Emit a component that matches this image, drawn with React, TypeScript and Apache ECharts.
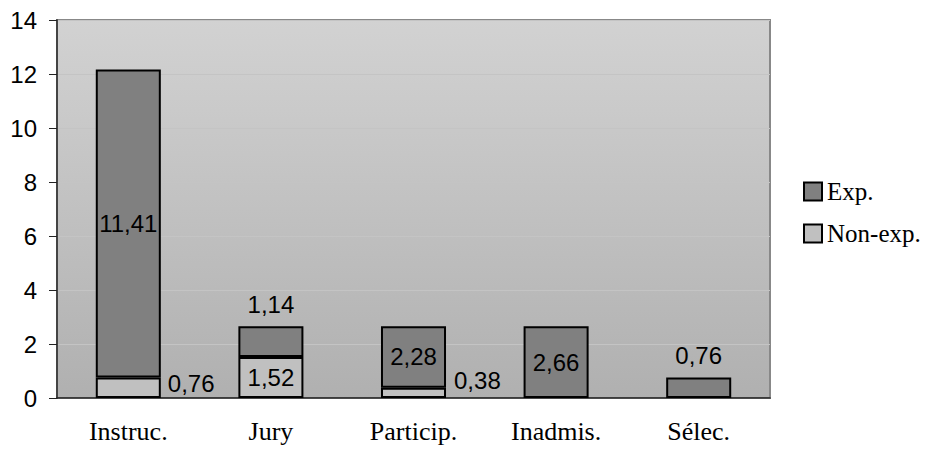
import React, { useEffect, useRef } from "react";
import * as echarts from "echarts";

const categories = ["Instruc.", "Jury", "Particip.", "Inadmis.", "Sélec."];
const expValues = [11.41, 1.14, 2.28, 2.66, 0.76];
const nonExpValues: (number | null)[] = [0.76, 1.52, 0.38, null, null];
const yTicks = { min: 0, max: 14, interval: 2 };

const fmt = (v: number) => v.toFixed(2).replace(".", ",");

export default function App() {
  const ref = useRef<HTMLDivElement>(null);
  useEffect(() => {
    if (!ref.current) return;
    const chart = echarts.init(ref.current, undefined, { renderer: "svg" });
    const expLabelPos = ["inside", "top", "inside", "inside", "top"];
    const nonExpLabel: any[] = [
      { position: "right", distance: 7, offset: [0, -4] },
      { position: "inside" },
      { position: "right", distance: 8, offset: [0, -12] },
      {},
      {},
    ];
    const sans = "Liberation Sans";
    const serif = "Liberation Serif";
    const barStyle = { borderColor: "#000", borderWidth: 2 };
    chart.setOption({
      animation: false,
      backgroundColor: "#fff",
      grid: {
        left: 57,
        right: 158,
        top: 20,
        bottom: 56,
        show: true,
        borderColor: "#888",
        borderWidth: 2,
        backgroundColor: new echarts.graphic.LinearGradient(0, 0, 0, 1, [
          { offset: 0, color: "#d2d2d2" },
          { offset: 1, color: "#b0b0b0" },
        ]),
      },
      legend: {
        orient: "vertical",
        left: 798,
        top: 174,
        itemWidth: 18,
        itemHeight: 18,
        itemGap: 17,
        icon: "rect",
        data: ["Exp.", "Non-exp."],
        textStyle: { fontFamily: serif, fontSize: 25, color: "#000" },
      },
      xAxis: {
        type: "category",
        data: categories,
        axisLine: { lineStyle: { color: "#222", width: 1.5 } },
        axisTick: { length: 9, lineStyle: { color: "#222" } },
        axisLabel: { fontFamily: serif, fontSize: 26, color: "#000", margin: 20 },
      },
      yAxis: {
        type: "value",
        min: yTicks.min,
        max: yTicks.max,
        interval: yTicks.interval,
        axisLine: { show: true, lineStyle: { color: "#444", width: 2 } },
        axisTick: { show: true, length: 8, lineStyle: { color: "#222" } },
        axisLabel: { fontFamily: sans, fontSize: 24, color: "#000", margin: 20 },
        splitLine: { lineStyle: { color: "#c4c4c4", width: 1 } },
      },
      series: [
        {
          name: "Non-exp.",
          type: "bar",
          stack: "total",
          barWidth: "45.6%",
          itemStyle: { color: "#c0c0c0", ...barStyle },
          data: nonExpValues.map((v, i) =>
            v == null ? "-" : { value: v, label: { ...nonExpLabel[i] } }
          ),
          label: {
            show: true,
            fontFamily: sans,
            fontSize: 24,
            color: "#000",
            formatter: (p: any) => fmt(p.value),
          },
        },
        {
          name: "Exp.",
          type: "bar",
          stack: "total",
          barWidth: "45.6%",
          itemStyle: { color: "#808080", ...barStyle },
          data: expValues.map((v, i) => ({
            value: v,
            label: { position: expLabelPos[i], distance: 10 },
          })),
          label: {
            show: true,
            fontFamily: sans,
            fontSize: 24,
            color: "#000",
            formatter: (p: any) => fmt(p.value),
          },
        },
      ],
    });
    return () => chart.dispose();
  }, []);
  return <div ref={ref} style={{ width: 928, height: 454, margin: -8 }} />;
}
